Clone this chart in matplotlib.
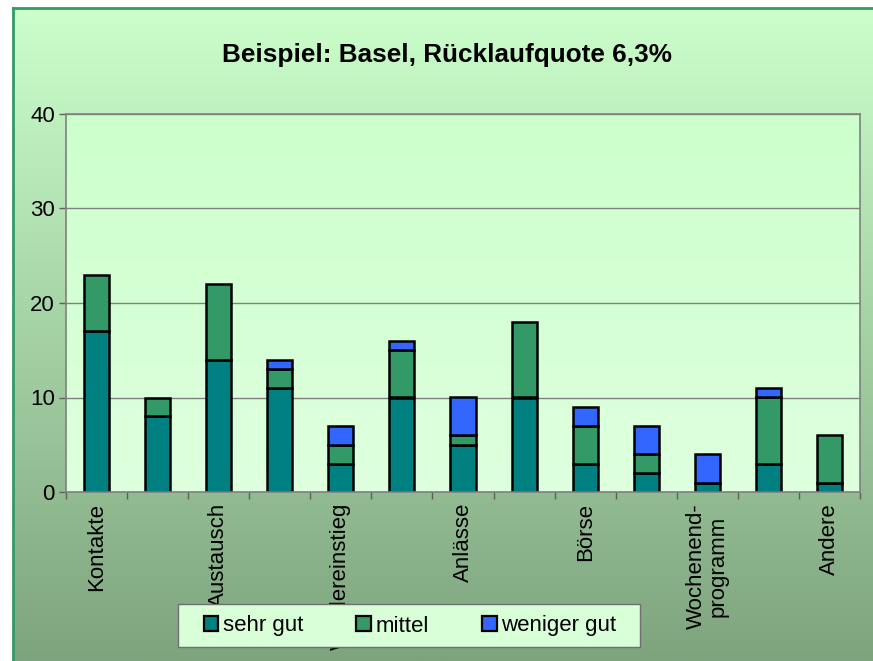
"""
Beispiel Basel - gestapelte Säulen (sehr gut / mittel / weniger gut)
"""

import numpy as np
import matplotlib
matplotlib.use("Agg")
import matplotlib.pyplot as plt
from matplotlib.lines import Line2D
from matplotlib.patches import Patch, Rectangle

plt.rcParams["font.family"] = ["Liberation Sans", "DejaVu Sans"]

# ── DATA ─────────────────────────────────────────────────────────────────────
categories = ["Kontakte", "", "Austausch", "", "Wiedereinstieg", "",
              "Anlässe", "", "Börse", "", "Wochenend-\nprogramm", "", "Andere"]
sehr_gut    = [17, 8, 14, 11, 3, 10, 5, 10, 3, 2, 1, 3, 1]
mittel      = [6, 2, 8, 2, 2, 5, 1, 8, 4, 2, 0, 7, 5]
weniger_gut = [0, 0, 0, 1, 2, 1, 4, 0, 2, 3, 3, 1, 0]
series_names = ["sehr gut", "mittel", "weniger gut"]
colors = ["#008080", "#339966", "#3366FF"]

title = "Beispiel: Basel, Rücklaufquote 6,3%"

# ── FIGURE + BACKGROUND ──────────────────────────────────────────────────────
W, H = 873, 661
fig = plt.figure(figsize=(W / 100, H / 100), dpi=100)
fig.patch.set_facecolor("white")

bg = fig.add_axes([13 / W, 0, 1 - 13 / W, 1 - 8 / H], zorder=-10)
top_c = np.array([204, 255, 204]) / 255
bot_c = np.array([126, 164, 126]) / 255
t = np.linspace(0, 1, 256)[:, None]
grad = top_c[None, :] * (1 - t) + bot_c[None, :] * t
bg.imshow(grad[:, None, :], aspect="auto", extent=(0, 1, 0, 1))
bg.set_axis_off()

# chart area border (green, left + top)
fig.add_artist(Line2D([12.5 / W, 12.5 / W], [0, 1 - 7.5 / H],
                      color="#339966", lw=2, transform=fig.transFigure))
fig.add_artist(Line2D([12.5 / W, 1], [1 - 7.5 / H, 1 - 7.5 / H],
                      color="#339966", lw=2, transform=fig.transFigure))

# ── PLOT AREA ────────────────────────────────────────────────────────────────
ax = fig.add_axes([66 / W, 1 - 492 / H, (860 - 66) / W, (492 - 114) / H])
n = len(categories)
x = np.arange(n)

ax.set_xlim(-0.5, n - 0.5)
ax.set_ylim(0, 40)

pa_top = np.array([204, 255, 204]) / 255
pa_bot = np.array([222, 255, 222]) / 255
pgrad = pa_top[None, :] * (1 - t) + pa_bot[None, :] * t
ax.imshow(pgrad[:, None, :], aspect="auto", extent=(-0.5, n - 0.5, 0, 40),
          zorder=0)

bottom = np.zeros(n)
for vals, name, col in zip([sehr_gut, mittel, weniger_gut], series_names, colors):
    vals = np.array(vals, dtype=float)
    mask = vals > 0
    ax.bar(x[mask], vals[mask], width=0.41, bottom=bottom[mask], color=col,
           edgecolor="black", linewidth=1.8, zorder=3)
    bottom += vals

ax.set_yticks([0, 10, 20, 30, 40])
ax.yaxis.grid(True, color="#808080", linewidth=1)
ax.set_axisbelow(True)
for g in ax.get_ygridlines():
    g.set_zorder(1)

ax.set_xticks(x)
ax.set_xticklabels(categories, rotation=90, ha="center", va="top",
                   fontsize=16, linespacing=1.0)
ax.set_xticks(np.arange(-0.5, n, 1.0), minor=True)
ax.tick_params(axis="x", which="major", length=0, pad=8)
ax.tick_params(axis="x", which="minor", length=5, width=1,
               color="#606060", direction="out")
ax.tick_params(axis="y", length=5, width=1, color="#606060",
               labelsize=16, pad=3)

for s in ax.spines.values():
    s.set_color("#808080")
    s.set_linewidth(1.2)
    s.set_zorder(4)

# ── TITLE ────────────────────────────────────────────────────────────────────
fig.text(447 / W, 1 - 55 / H, title, ha="center", va="center",
         fontsize=18.8, fontweight="bold")

# ── LEGEND ───────────────────────────────────────────────────────────────────
# box drawn separately so the entries can keep Excel's spacing
frame = Rectangle((178 / W, 1 - 647 / H), 462 / W, 43 / H,
                  transform=fig.transFigure, facecolor="#d8ffd8",
                  edgecolor="#707070", linewidth=1, zorder=5)
fig.add_artist(frame)

handles = [Patch(facecolor=c, edgecolor="black", linewidth=1.6) for c in colors]
leg = fig.legend(handles, series_names, ncol=3, loc="center",
                 bbox_to_anchor=(410 / W, 1 - 626 / H),
                 fontsize=16, frameon=False, columnspacing=2.4,
                 handlelength=0.65, handleheight=0.65, handletextpad=0.2,
                 borderpad=0, borderaxespad=0)
leg.set_zorder(6)

fig.savefig("out.png", dpi=100)
